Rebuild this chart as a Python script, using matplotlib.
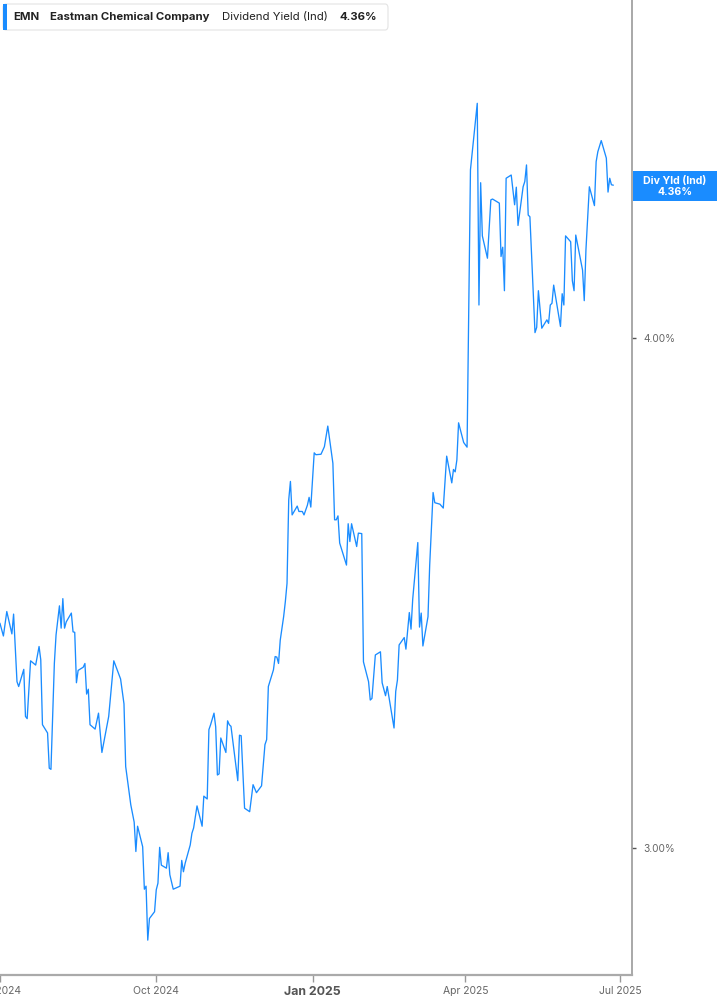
import matplotlib
matplotlib.use("Agg")
import matplotlib.pyplot as plt
from matplotlib.patches import FancyBboxPatch, Rectangle
import pandas as pd

# Dividend yield (indicated), EMN, %
dates = [
    "2024-07-01", "2024-07-03", "2024-07-05", "2024-07-08", "2024-07-09", "2024-07-11",
    "2024-07-12", "2024-07-15", "2024-07-16", "2024-07-17", "2024-07-19", "2024-07-22",
    "2024-07-24", "2024-07-25", "2024-07-26", "2024-07-29", "2024-07-30", "2024-07-31",
    "2024-08-02", "2024-08-03", "2024-08-05", "2024-08-06", "2024-08-07", "2024-08-08",
    "2024-08-09", "2024-08-12", "2024-08-13", "2024-08-14", "2024-08-15", "2024-08-16",
    "2024-08-19", "2024-08-20", "2024-08-21", "2024-08-22", "2024-08-23", "2024-08-26",
    "2024-08-28", "2024-08-30", "2024-09-03", "2024-09-06", "2024-09-10", "2024-09-12",
    "2024-09-13", "2024-09-16", "2024-09-18", "2024-09-19", "2024-09-20", "2024-09-23",
    "2024-09-24", "2024-09-25", "2024-09-26", "2024-09-27", "2024-09-30", "2024-10-01",
    "2024-10-02", "2024-10-03", "2024-10-04", "2024-10-07", "2024-10-08", "2024-10-09",
    "2024-10-11", "2024-10-15", "2024-10-16", "2024-10-17", "2024-10-18", "2024-10-21",
    "2024-10-22", "2024-10-23", "2024-10-25", "2024-10-28", "2024-10-29", "2024-10-31",
    "2024-11-01", "2024-11-02", "2024-11-04", "2024-11-05", "2024-11-06", "2024-11-07",
    "2024-11-08", "2024-11-11", "2024-11-12", "2024-11-13", "2024-11-14", "2024-11-18",
    "2024-11-19", "2024-11-20", "2024-11-22", "2024-11-25", "2024-11-27", "2024-11-29",
    "2024-12-02", "2024-12-04", "2024-12-05", "2024-12-06", "2024-12-09", "2024-12-10",
    "2024-12-11", "2024-12-12", "2024-12-13", "2024-12-15", "2024-12-16", "2024-12-17",
    "2024-12-18", "2024-12-19", "2024-12-20", "2024-12-23", "2024-12-24", "2024-12-26",
    "2024-12-27", "2024-12-29", "2024-12-30", "2024-12-31", "2025-01-01", "2025-01-02",
    "2025-01-03", "2025-01-06", "2025-01-08", "2025-01-10", "2025-01-13", "2025-01-14",
    "2025-01-15", "2025-01-16", "2025-01-17", "2025-01-21", "2025-01-22", "2025-01-23",
    "2025-01-24", "2025-01-27", "2025-01-28", "2025-01-30", "2025-01-31", "2025-02-03",
    "2025-02-04", "2025-02-05", "2025-02-07", "2025-02-10", "2025-02-11", "2025-02-13",
    "2025-02-14", "2025-02-18", "2025-02-19", "2025-02-20", "2025-02-21", "2025-02-24",
    "2025-02-25", "2025-02-27", "2025-02-28", "2025-03-01", "2025-03-04", "2025-03-05",
    "2025-03-06", "2025-03-07", "2025-03-10", "2025-03-11", "2025-03-13", "2025-03-14",
    "2025-03-17", "2025-03-19", "2025-03-21", "2025-03-24", "2025-03-25", "2025-03-26",
    "2025-03-27", "2025-03-28", "2025-03-31", "2025-04-02", "2025-04-04", "2025-04-08",
    "2025-04-09", "2025-04-10", "2025-04-11", "2025-04-14", "2025-04-16", "2025-04-17",
    "2025-04-21", "2025-04-22", "2025-04-23", "2025-04-24", "2025-04-25", "2025-04-28",
    "2025-04-30", "2025-05-01", "2025-05-02", "2025-05-05", "2025-05-06", "2025-05-07",
    "2025-05-08", "2025-05-09", "2025-05-12", "2025-05-13", "2025-05-14", "2025-05-16",
    "2025-05-19", "2025-05-20", "2025-05-21", "2025-05-22", "2025-05-23", "2025-05-27",
    "2025-05-28", "2025-05-29", "2025-05-30", "2025-06-02", "2025-06-03", "2025-06-04",
    "2025-06-05", "2025-06-09", "2025-06-10", "2025-06-11", "2025-06-13", "2025-06-16",
    "2025-06-17", "2025-06-18", "2025-06-20", "2025-06-23", "2025-06-24", "2025-06-25",
    "2025-06-26", "2025-06-27",
]
yields = [
    3.405, 3.381, 3.428, 3.385, 3.423, 3.295,
    3.286, 3.318, 3.231, 3.227, 3.334, 3.326,
    3.361, 3.336, 3.216, 3.201, 3.138, 3.136,
    3.329, 3.383, 3.439, 3.396, 3.453, 3.396,
    3.408, 3.425, 3.389, 3.388, 3.293, 3.316,
    3.322, 3.329, 3.272, 3.281, 3.216, 3.208,
    3.237, 3.166, 3.231, 3.334, 3.300, 3.254,
    3.141, 3.074, 3.044, 2.994, 3.037, 3.002,
    2.931, 2.936, 2.848, 2.883, 2.894, 2.930,
    2.941, 3.001, 2.971, 2.966, 2.992, 2.955,
    2.931, 2.936, 2.979, 2.960, 2.974, 3.005,
    3.025, 3.034, 3.072, 3.037, 3.089, 3.084,
    3.207, 3.216, 3.237, 3.212, 3.126, 3.128,
    3.192, 3.166, 3.223, 3.216, 3.213, 3.116,
    3.197, 3.196, 3.068, 3.062, 3.109, 3.095,
    3.107, 3.180, 3.189, 3.286, 3.317, 3.342,
    3.341, 3.329, 3.373, 3.418, 3.447, 3.483,
    3.651, 3.689, 3.620, 3.638, 3.627, 3.627,
    3.620, 3.640, 3.656, 3.636, 3.692, 3.749,
    3.745, 3.746, 3.762, 3.806, 3.727, 3.610,
    3.610, 3.618, 3.563, 3.519, 3.602, 3.566,
    3.602, 3.556, 3.583, 3.582, 3.332, 3.295,
    3.261, 3.264, 3.345, 3.351, 3.293, 3.269,
    3.286, 3.210, 3.277, 3.298, 3.364, 3.378,
    3.356, 3.426, 3.394, 3.452, 3.564, 3.398,
    3.425, 3.362, 3.418, 3.519, 3.666, 3.645,
    3.642, 3.634, 3.742, 3.686, 3.714, 3.709,
    3.734, 3.813, 3.771, 3.761, 4.398, 4.566,
    4.075, 4.366, 4.237, 4.184, 4.324, 4.326,
    4.316, 4.188, 4.210, 4.108, 4.377, 4.385,
    4.312, 4.355, 4.262, 4.356, 4.369, 4.410,
    4.287, 4.283, 4.012, 4.024, 4.108, 4.022,
    4.041, 4.033, 4.075, 4.079, 4.121, 4.026,
    4.101, 4.075, 4.237, 4.223, 4.131, 4.108,
    4.239, 4.156, 4.085, 4.204, 4.356, 4.310,
    4.418, 4.443, 4.471, 4.427, 4.343, 4.377,
    4.361, 4.360,
]

x_ticks = ["2024-07-01", "2024-10-01", "2025-01-01", "2025-04-01", "2025-07-01"]
x_tick_labels = ["Jul 2024", "Oct 2024", "Jan 2025", "Apr 2025", "Jul 2025"]
y_ticks = [3.0, 4.0]
y_tick_labels = ["3.00%", "4.00%"]

ticker = "EMN"
company = "Eastman Chemical Company"
metric = "Dividend Yield (Ind)"
last_label = "4.36%"

plt.rcParams["font.family"] = ["Inter", "DejaVu Sans"]

W, H = 717, 1005
BLUE = "#1A8CFF"

fig = plt.figure(figsize=(W / 100, H / 100), dpi=100)
ax = fig.add_axes([0, (H - 974.7) / H, 632.3 / W, 974.7 / H])

ax.plot(pd.to_datetime(dates), yields, color=BLUE, lw=0.95)

ax.set_yscale("log")
ax.set_ylim(2.793, 4.840)
ax.set_xlim(pd.Timestamp("2024-07-01"), pd.Timestamp("2025-07-08 07:00"))

ax.yaxis.tick_right()
ax.set_yticks(y_ticks)
ax.set_yticklabels(y_tick_labels)
ax.yaxis.set_minor_locator(matplotlib.ticker.NullLocator())
ax.tick_params(axis="y", which="major", length=3, width=1, color="#555555",
               pad=5, labelsize=7.3, labelcolor="#666666")

ax.set_xticks(pd.to_datetime(x_ticks))
ax.set_xticklabels(x_tick_labels)
ax.tick_params(axis="x", length=5, width=1, color="#999999", pad=3,
               labelsize=7.5, labelcolor="#666666")
for lbl in ax.get_xticklabels():
    if lbl.get_text().startswith("Jan"):
        lbl.set_fontweight("bold")
        lbl.set_fontsize(8.9)
        lbl.set_color("#555555")

for side in ["top", "left"]:
    ax.spines[side].set_visible(False)
ax.spines["right"].set_color("#999999")
ax.spines["right"].set_linewidth(1.2)
ax.spines["bottom"].set_color("#AAAAAA")
ax.spines["bottom"].set_linewidth(1.6)


def fx(px):
    return px / W


def fy(py):
    return 1 - py / H


# header legend box
box = FancyBboxPatch((fx(3), fy(30)), fx(385), 26 / H,
                     boxstyle="round,pad=0,rounding_size=0.004",
                     transform=fig.transFigure, facecolor="white",
                     edgecolor="#E3E3E3", lw=0.8, zorder=5)
fig.patches.append(box)
fig.patches.append(Rectangle((fx(3), fy(30)), fx(3.5), 26 / H,
                             transform=fig.transFigure, facecolor=BLUE,
                             edgecolor="none", zorder=6))
ty = fy(17)
hdr = dict(fontsize=8.2, color="#222222", va="center", ha="left", zorder=7)
fig.text(fx(13), ty, ticker, fontweight="bold", **hdr)
fig.text(fx(50), ty, company, fontweight="bold", **hdr)
fig.text(fx(222), ty, metric, **hdr)
fig.text(fx(339), ty, last_label, fontweight="bold", **hdr)

# last value tag on the right axis
fig.patches.append(Rectangle((fx(633), fy(201)), fx(84), 30 / H,
                             transform=fig.transFigure, facecolor=BLUE,
                             edgecolor="none", zorder=5))
fig.text(fx(675), fy(181), "Div Yld (Ind)", fontsize=7.6, fontweight="bold",
         color="white", ha="center", va="center", zorder=6)
fig.text(fx(675), fy(192), last_label, fontsize=7.6, fontweight="bold",
         color="white", ha="center", va="center", zorder=6)

fig.savefig("out.png", dpi=100)
